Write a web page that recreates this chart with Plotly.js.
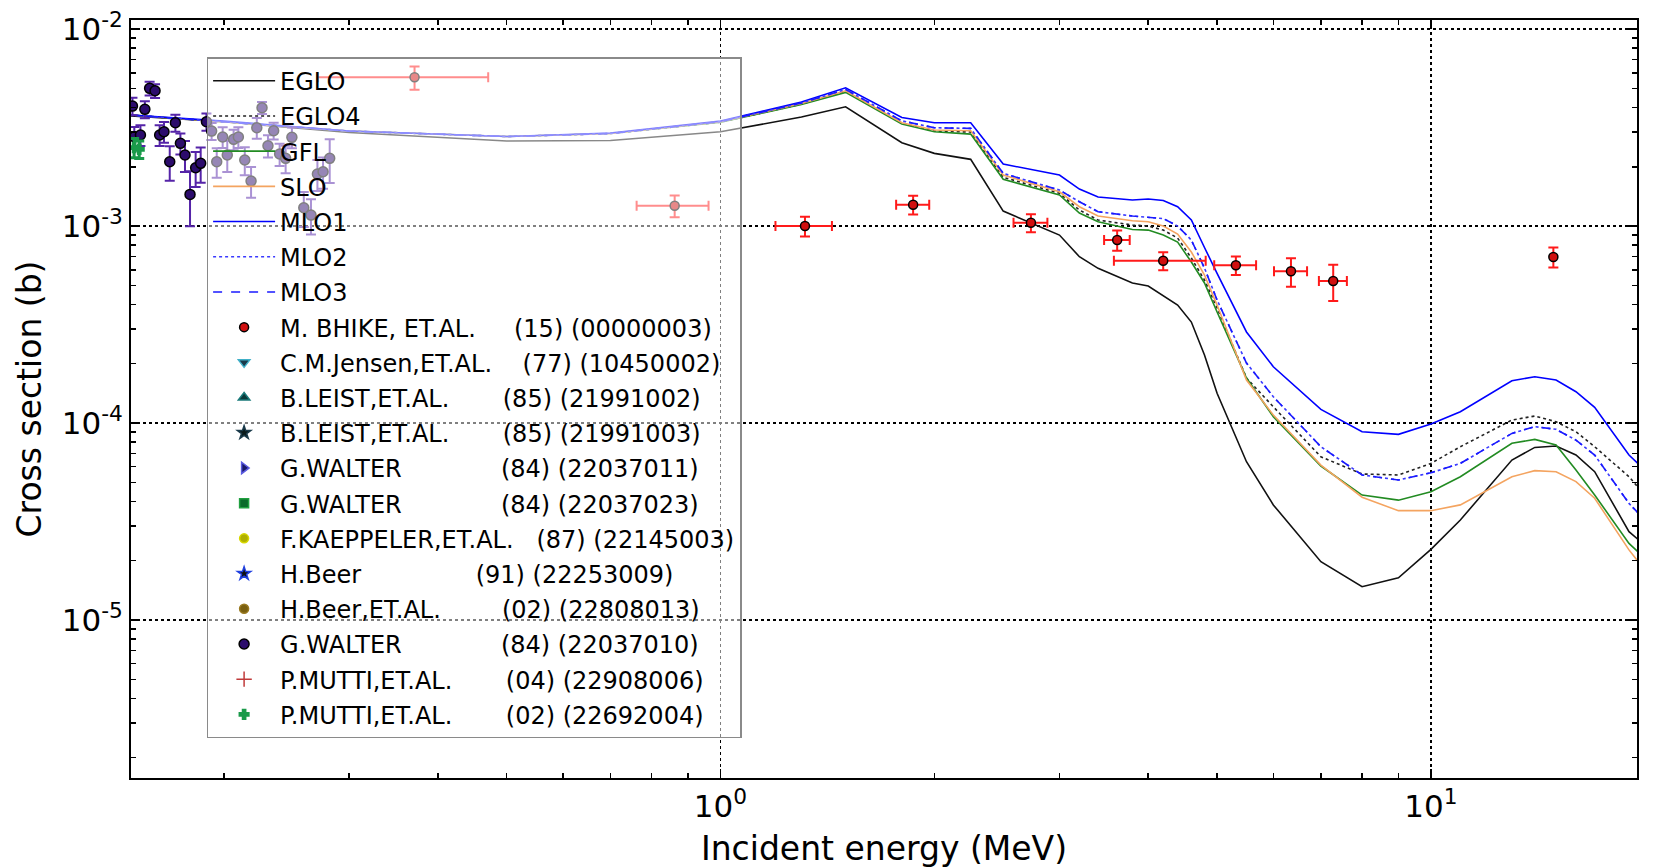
<!DOCTYPE html>
<html>
<head>
<meta charset="utf-8">
<script src="https://cdn.plot.ly/plotly-3.0.1.min.js"></script>
<style>html,body{margin:0;padding:0;background:#fff;}#plot{width:1657px;height:868px;}#plot text{white-space:pre !important;}</style>
</head>
<body>
<div id="plot"></div>
<script>
// ---------------- model curves (energy grid in MeV, cross sections in b) ----------------
const E_GRID = [0.148, 0.2, 0.3, 0.5, 0.7, 1.0, 1.3, 1.5, 1.8, 2.0, 2.25, 2.5, 3.0, 3.2, 3.4, 3.8, 4.0, 4.2, 4.4, 4.6, 4.8, 5.0, 5.5, 6, 7, 8, 9, 10, 11, 13, 14, 15, 16, 17, 19, 20];
const EGLO = [3.618e-3, 3.384e-3, 2.983e-3, 2.70e-3, 2.716e-3, 3.01e-3, 3.575e-3, 4.033e-3, 2.647e-3, 2.339e-3, 2.181e-3, 1.191e-3, 9.00e-4, 6.99e-4, 6.10e-4, 5.14e-4, 4.96e-4, 4.41e-4, 3.97e-4, 3.256e-4, 2.214e-4, 1.415e-4, 6.36e-5, 3.84e-5, 1.976e-5, 1.476e-5, 1.639e-5, 2.285e-5, 3.22e-5, 6.49e-5, 7.52e-5, 7.64e-5, 6.88e-5, 5.66e-5, 2.81e-5, 2.40e-5];
const EGLO4 = [3.66e-3, 3.39e-3, 3.035e-3, 2.847e-3, 2.948e-3, 3.37e-3, 4.16e-3, 4.82e-3, 3.333e-3, 3.035e-3, 3.0e-3, 1.768e-3, 1.466e-3, 1.206e-3, 1.073e-3, 1.012e-3, 1.0e-3, 9.54e-4, 8.69e-4, 6.88e-4, 5.32e-4, 3.84e-4, 1.692e-4, 1.209e-4, 6.74e-5, 5.51e-5, 5.45e-5, 6.24e-5, 7.58e-5, 1.036e-4, 1.085e-4, 1.015e-4, 9.03e-5, 7.58e-5, 5.34e-5, 4.31e-5];
const GFL = [3.66e-3, 3.39e-3, 3.035e-3, 2.847e-3, 2.948e-3, 3.37e-3, 4.137e-3, 4.77e-3, 3.294e-3, 3.01e-3, 2.93e-3, 1.727e-3, 1.437e-3, 1.164e-3, 1.051e-3, 9.60e-4, 9.54e-4, 9.00e-4, 8.29e-4, 6.57e-4, 5.14e-4, 3.66e-4, 1.692e-4, 1.077e-4, 6.05e-5, 4.31e-5, 4.06e-5, 4.48e-5, 5.34e-5, 7.89e-5, 8.26e-5, 7.73e-5, 5.77e-5, 4.31e-5, 2.45e-5, 2.06e-5];
const SLO = [3.66e-3, 3.39e-3, 3.035e-3, 2.847e-3, 2.948e-3, 3.39e-3, 4.185e-3, 4.86e-3, 3.345e-3, 3.071e-3, 3.047e-3, 1.815e-3, 1.493e-3, 1.253e-3, 1.124e-3, 1.064e-3, 1.051e-3, 1.0e-3, 9.11e-4, 7.38e-4, 5.64e-4, 3.97e-4, 1.653e-4, 1.098e-4, 6.12e-5, 4.20e-5, 3.59e-5, 3.59e-5, 3.84e-5, 5.34e-5, 5.73e-5, 5.66e-5, 5.04e-5, 4.15e-5, 2.27e-5, 1.794e-5];
const MLO1 = [3.66e-3, 3.41e-3, 3.035e-3, 2.847e-3, 2.966e-3, 3.41e-3, 4.26e-3, 5.035e-3, 3.56e-3, 3.345e-3, 3.345e-3, 2.064e-3, 1.815e-3, 1.541e-3, 1.403e-3, 1.355e-3, 1.371e-3, 1.347e-3, 1.253e-3, 1.073e-3, 7.78e-4, 5.75e-4, 2.90e-4, 1.931e-4, 1.173e-4, 9.03e-5, 8.76e-5, 9.88e-5, 1.141e-4, 1.640e-4, 1.718e-4, 1.653e-4, 1.442e-4, 1.201e-4, 6.88e-5, 5.77e-5];
const MLO2 = [3.66e-3, 3.39e-3, 3.035e-3, 2.847e-3, 2.948e-3, 3.39e-3, 4.21e-3, 4.94e-3, 3.42e-3, 3.155e-3, 3.132e-3, 1.851e-3, 1.523e-3, 1.329e-3, 1.182e-3, 1.124e-3, 1.111e-3, 1.092e-3, 1.0e-3, 8.49e-4, 6.12e-4, 4.21e-4, 2.017e-4, 1.36e-4, 7.58e-5, 5.45e-5, 5.14e-5, 5.59e-5, 6.24e-5, 8.86e-5, 9.58e-5, 9.29e-5, 8.19e-5, 6.88e-5, 3.91e-5, 3.22e-5];
const MLO3 = [3.66e-3, 3.39e-3, 3.035e-3, 2.847e-3, 2.948e-3, 3.39e-3, 4.21e-3, 4.94e-3, 3.42e-3, 3.155e-3, 3.132e-3, 1.851e-3, 1.523e-3, 1.329e-3, 1.182e-3, 1.124e-3, 1.111e-3, 1.092e-3, 1.0e-3, 8.49e-4, 6.12e-4, 4.21e-4, 2.017e-4, 1.36e-4, 7.58e-5, 5.45e-5, 5.14e-5, 5.59e-5, 6.24e-5, 8.86e-5, 9.58e-5, 9.29e-5, 8.19e-5, 6.88e-5, 3.91e-5, 3.22e-5];

// ---------------- experimental data ----------------
// M. BHIKE (15)
const BHIKE_E = [0.371, 0.862, 1.315, 1.867, 2.735, 3.617, 4.199, 5.314, 6.353, 7.285, 14.87];
const BHIKE_DE = [0.10, 0.10, 0.12, 0.10, 0.15, 0.15, 0.62, 0.36, 0.34, 0.33, 0.0];
const BHIKE_XS = [5.69e-3, 1.268e-3, 1.0e-3, 1.283e-3, 1.039e-3, 0.849e-3, 0.667e-3, 0.632e-3, 0.589e-3, 0.526e-3, 0.697e-3];
const BHIKE_DXS = [0.77e-3, 0.16e-3, 0.115e-3, 0.14e-3, 0.108e-3, 0.10e-3, 0.07e-3, 0.068e-3, 0.097e-3, 0.11e-3, 0.081e-3];
// G.WALTER (84) 22037010
const WALTER10_E = [0.1487, 0.1548, 0.1572, 0.1600, 0.1496, 0.1526, 0.1624, 0.1647, 0.1678, 0.1709, 0.1737, 0.1763, 0.1792, 0.1825, 0.1855, 0.1890, 0.1922, 0.1954, 0.1992, 0.2022, 0.2064, 0.2096, 0.2140, 0.2184, 0.2225, 0.2263, 0.2307, 0.2350, 0.2396, 0.2443, 0.2493, 0.2591, 0.2652, 0.2708, 0.2758, 0.2818];
const WALTER10_XS = [4.065e-3, 3.913e-3, 5.0e-3, 4.86e-3, 2.84e-3, 2.90e-3, 2.90e-3, 3.01e-3, 2.12e-3, 3.345e-3, 2.63e-3, 2.293e-3, 1.448e-3, 1.977e-3, 2.081e-3, 3.384e-3, 3.035e-3, 2.12e-3, 2.83e-3, 2.293e-3, 2.755e-3, 2.83e-3, 2.163e-3, 1.692e-3, 3.155e-3, 3.986e-3, 2.557e-3, 3.047e-3, 2.32e-3, 2.206e-3, 2.82e-3, 1.238e-3, 1.137e-3, 1.837e-3, 1.887e-3, 2.206e-3];
const WALTER10_DXS = [0.41e-3, 0.39e-3, 0.40e-3, 0.39e-3, 0.34e-3, 0.35e-3, 0.35e-3, 0.36e-3, 0.42e-3, 0.33e-3, 0.32e-3, 0.41e-3, 0.45e-3, 0.40e-3, 0.42e-3, 0.34e-3, 0.30e-3, 0.36e-3, 0.34e-3, 0.41e-3, 0.33e-3, 0.34e-3, 0.35e-3, 0.30e-3, 0.38e-3, 0.28e-3, 0.33e-3, 0.30e-3, 0.30e-3, 0.35e-3, 0.34e-3, 0.25e-3, 0.23e-3, 0.33e-3, 0.34e-3, 0.55e-3];
// P.MUTTI (02) 22692004
const MUTTI02_E = [0.1495, 0.152];
const MUTTI02_XS = [2.50e-3, 2.45e-3];
const MUTTI02_DXS = [0.28e-3, 0.25e-3];
// data sets whose points lie outside the plotted energy window (legend entries only)
const EMPTY = [];

// legend labels
const DS_NAMES = ["M. BHIKE, ET.AL.", "C.M.Jensen,ET.AL.", "B.LEIST,ET.AL.", "B.LEIST,ET.AL.", "G.WALTER", "G.WALTER", "F.KAEPPELER,ET.AL.", "H.Beer", "H.Beer,ET.AL.", "G.WALTER", "P.MUTTI,ET.AL.", "P.MUTTI,ET.AL."];
const DS_YEARS = ["15", "77", "85", "85", "84", "84", "87", "91", "02", "84", "04", "02"];
const DS_IDS = ["00000003", "10450002", "21991002", "21991003", "22037011", "22037023", "22145003", "22253009", "22808013", "22037010", "22908006", "22692004"];

function label(i) {
  return DS_NAMES[i].padEnd(20, ' ') + ' (' + DS_YEARS[i] + ') (' + DS_IDS[i] + ')';
}

const traces = [];
function line(name, y, color, dash) {
  traces.push({x: E_GRID, y: y, name: name, type: 'scatter', mode: 'lines',
    legendgroup: 'g' + traces.length,
    line: {color: color, width: 1.6, dash: dash}});
}
line('EGLO', EGLO, '#111111', 'solid');
line('EGLO4', EGLO4, '#222222', 'dot');
line('GFL', GFL, '#228b22', 'solid');
line('SLO', SLO, '#f4a460', 'solid');
line('MLO1', MLO1, '#0000ff', 'solid');
line('MLO2', MLO2, '#3a3aff', 'dot');
line('MLO3', MLO3, '#1a1aff', 'dash');

function dataset(i, x, y, dy, dx, ecol, mcol, sym, msize, thick, edge) {
  const t = {x: x.length ? x : [null], y: y.length ? y : [null], name: label(i), type: 'scatter', mode: 'markers',
    legendgroup: 'g' + traces.length,
    marker: {color: mcol, symbol: sym, size: msize, line: {color: edge, width: 1.5}},
    error_y: {type: 'data', array: dy.length ? dy : [0], color: ecol, thickness: thick, width: 5, visible: true}};
  if (dx) t.error_x = {type: 'data', array: dx, color: ecol, thickness: thick, width: 5, visible: true};
  else t.error_x = {type: 'data', array: [0], color: ecol, thickness: thick, width: 0, visible: true};
  traces.push(t);
}
dataset(0, BHIKE_E, BHIKE_XS, BHIKE_DXS, BHIKE_DE, '#ff1a1a', '#d01010', 'circle', 9, 2, '#000');
dataset(1, EMPTY, EMPTY, EMPTY, null, '#40b0c8', '#1a3a4a', 'triangle-down', 10, 2, '#40b0c8');
dataset(2, EMPTY, EMPTY, EMPTY, null, '#1a7a7a', '#0a3a3a', 'triangle-up', 10, 2, '#1a7a7a');
dataset(3, EMPTY, EMPTY, EMPTY, null, '#1a3a4a', '#0a1a1a', 'star', 10, 2, '#1a3a4a');
dataset(4, EMPTY, EMPTY, EMPTY, null, '#5a5ae0', '#1a1a6a', 'triangle-right', 10, 2, '#5a5ae0');
dataset(5, EMPTY, EMPTY, EMPTY, null, '#20a040', '#0a6a2a', 'square', 9, 2, '#20a040');
dataset(6, EMPTY, EMPTY, EMPTY, null, '#d8d800', '#b0b000', 'circle', 9, 2, '#d8d800');
dataset(7, EMPTY, EMPTY, EMPTY, null, '#2040e0', '#101010', 'star', 10, 2, '#2040e0');
dataset(8, EMPTY, EMPTY, EMPTY, null, '#9a7a20', '#7a6010', 'circle', 9, 2, '#9a7a20');
dataset(9, WALTER10_E, WALTER10_XS, WALTER10_DXS, null, '#5524a8', '#2c0c6c', 'circle', 10, 2, '#000');
dataset(10, EMPTY, EMPTY, EMPTY, null, '#c03a3a', '#c03a3a', 'cross-thin-open', 11, 3, '#c03a3a');
dataset(11, MUTTI02_E, MUTTI02_XS, MUTTI02_DXS, null, '#1a9a4a', '#1a9a4a', 'cross', 8, 3, '#1a9a4a');

function minorTicks(lo, hi) {
  const v = [];
  for (let d = lo; d <= hi; d++) for (let k = 2; k <= 9; k++) v.push(k * Math.pow(10, d));
  return v;
}

const axisCommon = {
  type: 'log', showline: true, linecolor: '#000', linewidth: 2, mirror: 'allticks',
  ticks: 'inside', ticklen: 9, tickwidth: 1.5, tickcolor: '#000',
  showgrid: true, gridcolor: '#000', gridwidth: 1.5, griddash: 'dot', zeroline: false,
  tickfont: {family: 'DejaVu Sans', size: 31, color: '#000'}, tickmode: 'array'
};

const layout = {
  width: 1657, height: 868,
  margin: {l: 131, r: 20, t: 20, b: 90},
  paper_bgcolor: '#fff', plot_bgcolor: '#fff',
  font: {family: 'DejaVu Sans', color: '#000'},
  showlegend: true,
  legend: {x: 0.0502, y: 0.951, xanchor: 'left', yanchor: 'top', traceorder: 'grouped',
    bgcolor: 'rgba(255,255,255,0.5)', bordercolor: '#8a8a8a', borderwidth: 1.5,
    font: {family: 'DejaVu Sans', size: 24, color: '#000'}, itemwidth: 62, tracegroupgap: 1},
  xaxis: Object.assign({}, axisCommon, {
    range: [Math.log10(0.148), Math.log10(19.5)],
    tickvals: [1, 10], ticktext: ['10<sup>0</sup>', '10<sup>1</sup>'],
    minor: {tickmode: 'array', tickvals: minorTicks(-1, 1), ticks: 'inside', ticklen: 5, tickcolor: '#000', showgrid: false},
    title: {text: 'Incident energy (MeV)', font: {family: 'DejaVu Sans', size: 33, color: '#000'}, standoff: 15}
  }),
  yaxis: Object.assign({}, axisCommon, {
    range: [-5.802, -1.954],
    tickvals: [1e-5, 1e-4, 1e-3, 1e-2], ticktext: ['10<sup>-5</sup>', '10<sup>-4</sup>', '10<sup>-3</sup>', '10<sup>-2</sup>'],
    minor: {tickmode: 'array', tickvals: minorTicks(-6, -2), ticks: 'inside', ticklen: 5, tickcolor: '#000', showgrid: false},
    title: {text: 'Cross section (b)', font: {family: 'DejaVu Sans', size: 33, color: '#000'}, standoff: 10}
  })
};

Plotly.newPlot('plot', traces, layout, {displayModeBar: false, staticPlot: true});
</script>
</body>
</html>
